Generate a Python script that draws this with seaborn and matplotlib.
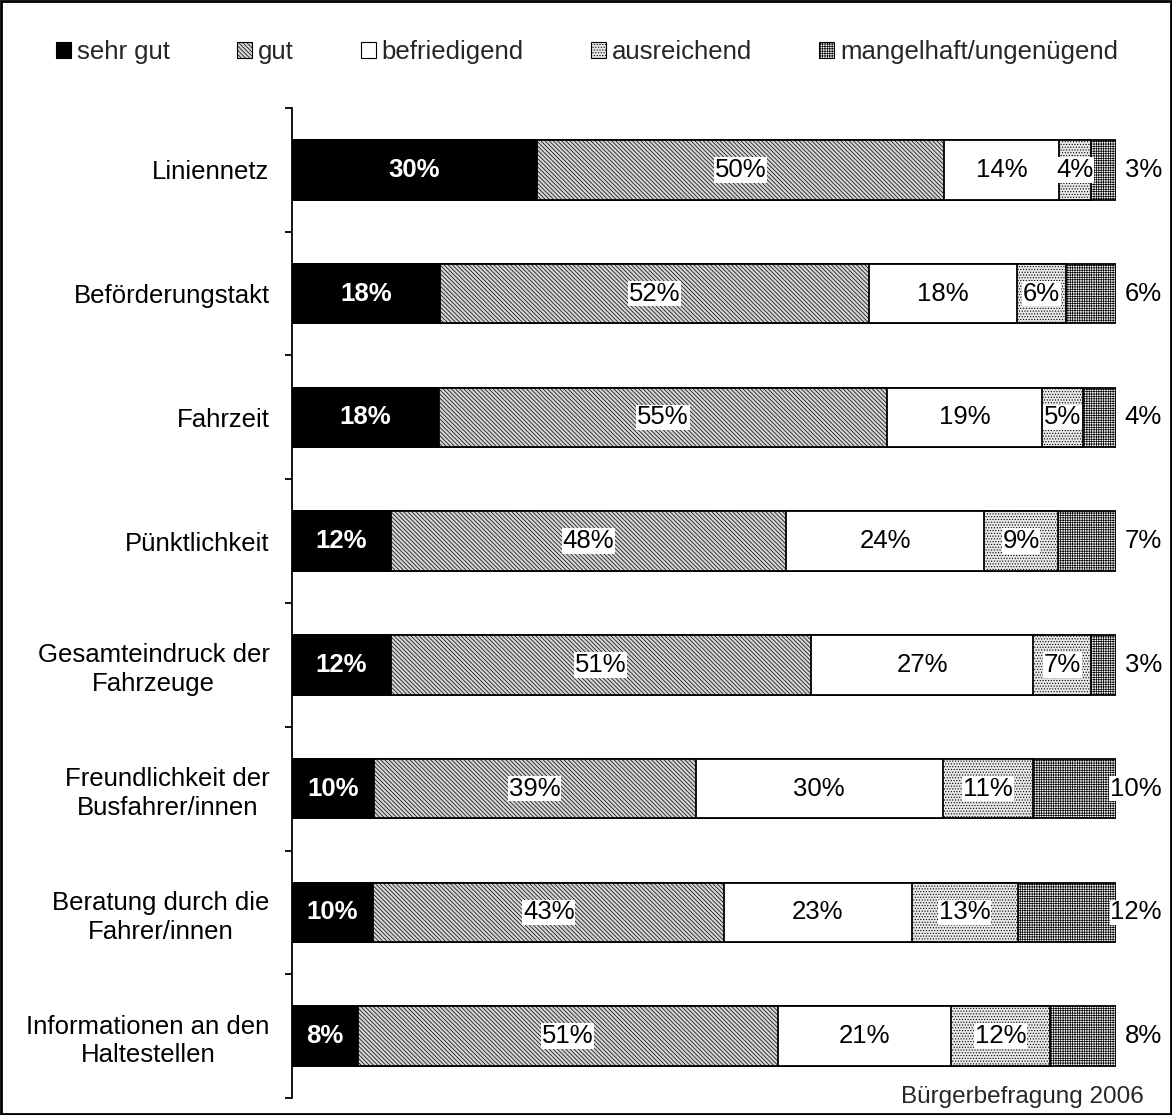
import matplotlib.pyplot as plt
import matplotlib.patches as mpatches
import pandas as pd
import seaborn as sns


categories = [
    "Liniennetz",
    "Beförderungstakt",
    "Fahrzeit",
    "Pünktlichkeit",
    "Gesamteindruck der\nFahrzeuge",
    "Freundlichkeit der\nBusfahrer/innen",
    "Beratung durch die\nFahrer/innen",
    "Informationen an den\nHaltestellen",
]
levels = ["sehr gut", "gut", "befriedigend", "ausreichend", "mangelhaft/ungenügend"]

sehr_gut = [30, 18, 18, 12, 12, 10, 10, 8]
gut = [50, 52, 55, 48, 51, 39, 43, 51]
befriedigend = [14, 18, 19, 24, 27, 30, 23, 21]
ausreichend = [4, 6, 5, 9, 7, 11, 13, 12]
mangelhaft = [3, 6, 4, 7, 3, 10, 12, 8]

# fill colour + hatch per rating level
STYLES = {
    "sehr gut": ("black", ""),
    "gut": ("#d4d4d4", "\\\\\\\\\\\\\\\\"),
    "befriedigend": ("white", ""),
    "ausreichend": ("#e8e8e8", "......"),
    "mangelhaft/ungenügend": ("white", "+++++++"),
}
FONT_SIZE = 18.5


def build_table():
    df = pd.DataFrame(
        {
            "sehr gut": sehr_gut,
            "gut": gut,
            "befriedigend": befriedigend,
            "ausreichend": ausreichend,
            "mangelhaft/ungenügend": mangelhaft,
        },
        index=categories,
    )
    shares = df.div(df.sum(axis=1), axis=0) * 100
    return df, shares


def main():
    sns.set_theme(style="white")
    plt.rcParams["font.family"] = ["Liberation Sans", "DejaVu Sans"]
    plt.rcParams["hatch.linewidth"] = 0.5
    plt.rcParams["hatch.color"] = "black"

    df, shares = build_table()
    cum = shares.cumsum(axis=1)

    fig = plt.figure(figsize=(11.72, 11.15), dpi=100)
    ax = fig.add_axes([0.249, 0.0152, 0.703, 0.888])

    # stacked bars: draw cumulative totals from the outside in
    for level in reversed(levels):
        face, hatch = STYLES[level]
        before = len(ax.patches)
        sns.barplot(
            x=cum[level].values,
            y=categories,
            orient="h",
            ax=ax,
            color=face,
            saturation=1,
            width=0.48,
            edgecolor="black",
            linewidth=1.3,
        )
        for patch in ax.patches[before:]:
            patch.set_facecolor(face)
            patch.set_hatch(hatch)

    # value labels
    for i, cat in enumerate(categories):
        for level in levels:
            value = df.loc[cat, level]
            centre = cum.loc[cat, level] - shares.loc[cat, level] / 2
            text = f"{value}%"
            if level == "sehr gut":
                ax.text(centre, i, text, ha="center", va="center", color="white",
                        fontweight="bold", fontsize=FONT_SIZE)
            elif level == "befriedigend":
                ax.text(centre, i, text, ha="center", va="center", color="black",
                        fontsize=FONT_SIZE)
            elif level == "mangelhaft/ungenügend":
                ax.text(105.6, i, text, ha="right", va="center", color="black",
                        fontsize=FONT_SIZE, clip_on=False,
                        bbox=dict(facecolor="white", edgecolor="none", pad=0.5))
            else:
                ax.text(centre, i, text, ha="center", va="center", color="black",
                        fontsize=FONT_SIZE,
                        bbox=dict(facecolor="white", edgecolor="none", pad=0.5))

    ax.set_xlim(0, 100)
    ax.set_ylim(len(categories) - 0.5, -0.5)
    ax.set_xlabel("")
    ax.set_ylabel("")
    ax.set_xticks([])
    for side in ["top", "right", "bottom"]:
        ax.spines[side].set_visible(False)
    ax.spines["left"].set_color("black")
    ax.spines["left"].set_linewidth(1.3)

    ax.set_yticks(range(len(categories)))
    ax.set_yticks([i - 0.5 for i in range(len(categories) + 1)], minor=True)
    ax.tick_params(axis="y", which="major", length=0, pad=16, labelsize=FONT_SIZE,
                   labelcolor="black")
    ax.tick_params(axis="y", which="minor", length=5, width=1.3, color="black",
                   direction="out", left=True)
    for label in ax.get_yticklabels():
        label.set_multialignment("center")
        label.set_linespacing(1.25)

    handles = [
        mpatches.Patch(facecolor=STYLES[lv][0], hatch=STYLES[lv][1],
                       edgecolor="black", linewidth=0.8)
        for lv in levels
    ]
    fig.legend(handles, levels, loc="center left", bbox_to_anchor=(0.028, 0.953),
               ncol=5, frameon=False, fontsize=FONT_SIZE, handlelength=0.58,
               handleheight=0.58, handletextpad=0.23, columnspacing=2.62)

    fig.text(0.976, 0.016, "Bürgerbefragung 2006", ha="right", va="center",
             fontsize=17.5)

    fig.patches.append(
        mpatches.Rectangle((0.001, 0.001), 0.998, 0.998, transform=fig.transFigure,
                           fill=False, edgecolor="black", linewidth=2)
    )

    fig.savefig("out.png", dpi=100)
    plt.close(fig)


if __name__ == "__main__":
    main()
